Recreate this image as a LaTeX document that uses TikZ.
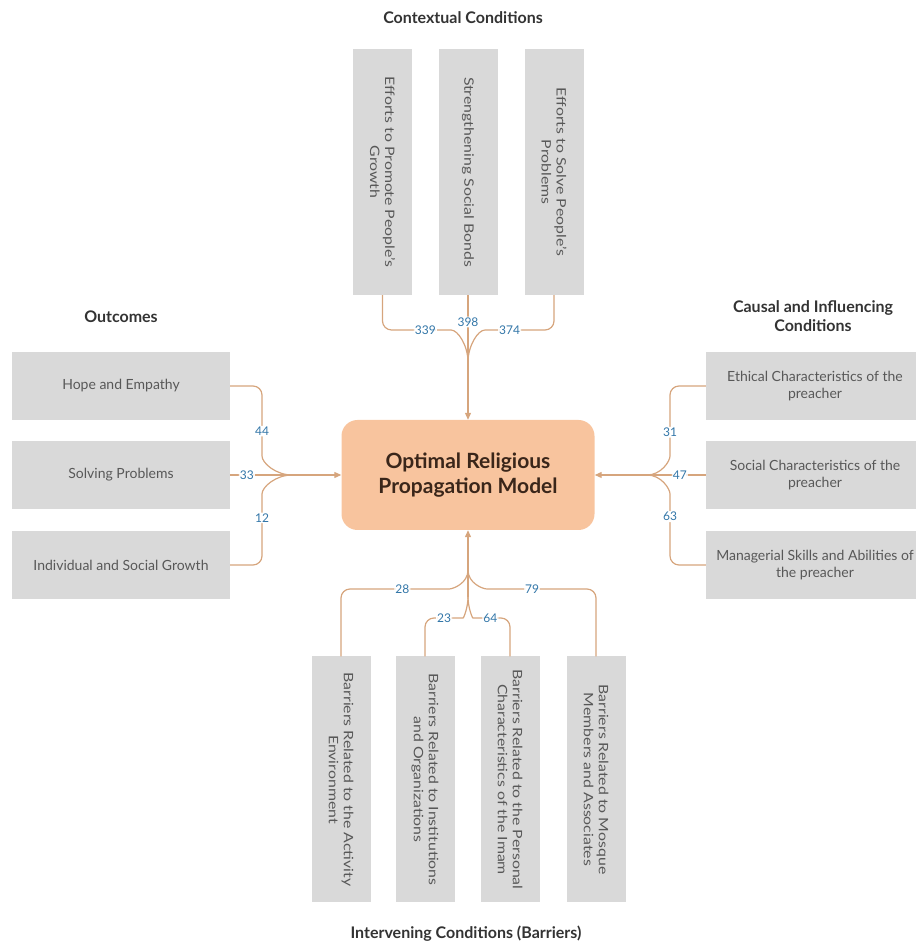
\documentclass[tikz,border=0pt]{standalone}
\usepackage{fontspec}
\setmainfont{Lato}
\usetikzlibrary{arrows.meta,positioning}
\definecolor{BoxGray}{RGB}{217,217,217}
\definecolor{TextGray}{RGB}{88,88,88}
\definecolor{LinkTan}{RGB}{214,165,125}
\definecolor{NumBlue}{RGB}{50,118,168}
\definecolor{Peach}{RGB}{248,196,158}
\definecolor{ModelText}{RGB}{58,38,26}
\tikzset{
	hbox/.style={fill=BoxGray, minimum width=218pt, minimum height=68pt, inner sep=4pt,
		align=center, text=TextGray, font=\fontsize{14}{17}\selectfont},
	vbox/.style={fill=BoxGray, minimum width=59pt, minimum height=246pt, inner sep=0pt},
	vtext/.style={rotate=-90, xscale=1.22, align=center, text=TextGray, font=\fontsize{13}{15}\selectfont},
	hub/.style={fill=Peach, rounded corners=16pt, minimum width=253pt, minimum height=110pt,
		align=center, text=ModelText, font=\bfseries\fontsize{21}{25}\selectfont},
	link/.style={draw=LinkTan, line width=1.2pt, rounded corners=9pt},
	num/.style={fill=white, text=NumBlue, inner sep=1pt, font=\fontsize{12}{12}\selectfont},
	grouptitle/.style={align=center, text=black!80, font=\bfseries\fontsize{16}{19}\selectfont}
}
\begin{document}
\begin{tikzpicture}[x=1pt, y=1pt, >={Triangle[length=7pt,width=6pt]}]
	\useasboundingbox (0,0) rectangle (915,947);
%
	\node[hub] (model) at (468,472) {Optimal Religious\\Propagation Model};
%
	%contextual conditions
	\node[grouptitle] at (463,929) {Contextual Conditions};
	\node[vbox] (ctx1) at (382.5,775) {};
	\node[vbox] (ctx2) at (468,775) {};
	\node[vbox] (ctx3) at (554,775) {};
	\node[vtext] at (ctx1) {Efforts to Promote People's\\Growth};
	\node[vtext] at (ctx2) {Strengthening Social Bonds};
	\node[vtext] at (ctx3) {Efforts to Solve People's\\Problems};
	\coordinate (jTop) at (468,585);
	\draw[link] (ctx1.south) |- (442,617) node[num, pos=.86] {339} to[out=0,in=90] (jTop);
	\draw[link] (ctx2.south) -- (jTop) node[num, pos=.4] {398};
	\draw[link] (ctx3.south) |- (494,617) node[num, pos=.87] {374} to[out=180,in=90] (jTop);
	\draw[link, ->] (jTop) -- (model.north);
%
	%outcomes
	\node[grouptitle] at (121,630) {Outcomes};
	\node[hbox] (out1) at (121,561) {Hope and Empathy};
	\node[hbox] (out2) at (121,472) {Solving Problems};
	\node[hbox] (out3) at (121,382) {Individual and Social Growth};
	\coordinate (jLeft) at (292,472);
	\draw[link] (out1.east) -| (262,500) node[num, pos=.87] {44} to[out=-90,in=180] (jLeft);
	\draw[link] (out2.east) -- (jLeft) node[num, pos=.27] {33};
	\draw[link] (out3.east) -| (262,444) node[num, pos=.88] {12} to[out=90,in=180] (jLeft);
	\draw[link, ->] (jLeft) -- (model.west);
%
	%causal and influencing conditions
	\node[grouptitle] at (813,631) {Causal and Influencing\\Conditions};
	\node[hbox] (cause1) at (815,561) {Ethical Characteristics of the\\preacher};
	\node[hbox] (cause2) at (815,472) {Social Characteristics of the\\preacher};
	\node[hbox] (cause3) at (815,382) {Managerial Skills and Abilities of\\the preacher};
	\coordinate (jRight) at (647,472);
	\draw[link] (cause1.west) -| (670,500) node[num, pos=.88] {31} to[out=-90,in=0] (jRight);
	\draw[link] (cause2.west) -- (jRight) node[num, pos=.44] {47};
	\draw[link] (cause3.west) -| (670,444) node[num, pos=.89] {63} to[out=90,in=0] (jRight);
	\draw[link, ->] (jRight) -- (model.east);
%
	%intervening conditions
	\node[grouptitle] at (466,13) {Intervening Conditions (Barriers)};
	\node[vbox] (bar1) at (341,167.5) {};
	\node[vbox] (bar2) at (425,167.5) {};
	\node[vbox] (bar3) at (510,167.5) {};
	\node[vbox] (bar4) at (596,167.5) {};
	\node[vtext] at (bar1) {Barriers Related to the Activity\\Environment};
	\node[vtext] at (bar2) {Barriers Related to Institutions\\and Organizations};
	\node[vtext] at (bar3) {Barriers Related to the Personal\\Characteristics of the Imam};
	\node[vtext] at (bar4) {Barriers Related to Mosque\\Members and Associates};
	\coordinate (jBotOut) at (468,377);
	\coordinate (jBot) at (468,350);
	\draw[link] (bar1.north) |- (440,358) node[num, pos=.81] {28} to[out=0,in=-90] (jBotOut);
	\draw[link] (bar4.north) |- (496,358) node[num, pos=.82] {79} to[out=180,in=-90] (jBotOut);
	\draw[link] (bar2.north) |- (454,329) node[num, pos=.83] {23} to[out=0,in=-90] (jBot);
	\draw[link] (bar3.north) |- (482,329) node[num, pos=.85] {64} to[out=180,in=-90] (jBot);
	\draw[link, ->] (jBot) -- (model.south);
\end{tikzpicture}
\end{document}
